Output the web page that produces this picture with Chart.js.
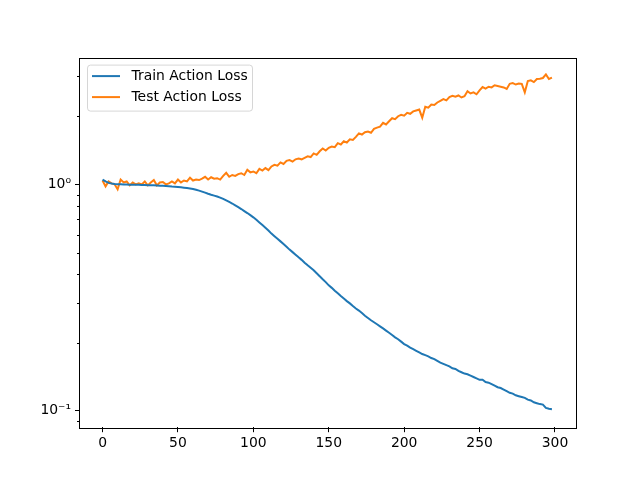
<!DOCTYPE html>
<html>
<head>
<meta charset="utf-8">
<script src="https://cdn.jsdelivr.net/npm/chart.js@4/dist/chart.umd.min.js"></script>
<style>
  html, body { margin: 0; padding: 0; background: #fff; }
  #wrap { width: 640px; height: 480px; }
</style>
</head>
<body>
<div id="wrap"><canvas id="myChart" width="640" height="480"></canvas></div>
<script>
// epochs sampled every 2 steps
const epochs = Array.from({ length: 150 }, (_, i) => i * 2);

const trainLoss = [
  1.05, 1.03, 1.015, 1.008, 1.003, 1.0, 1.0, 0.998, 0.998, 0.997,
  0.996, 0.995, 0.995, 0.994, 0.993, 0.992, 0.991, 0.99, 0.989, 0.987,
  0.985, 0.983, 0.981, 0.978, 0.976, 0.973, 0.97, 0.967, 0.963, 0.958,
  0.953, 0.946, 0.938, 0.929, 0.919, 0.909, 0.9, 0.892, 0.884, 0.874,
  0.862, 0.849, 0.836, 0.823, 0.808, 0.793, 0.778, 0.762, 0.747, 0.731,
  0.715, 0.697, 0.679, 0.661, 0.643, 0.625, 0.606, 0.59, 0.575, 0.56,
  0.545, 0.53, 0.515, 0.502, 0.489, 0.476, 0.464, 0.451, 0.439, 0.428,
  0.417, 0.405, 0.393, 0.381, 0.37, 0.358, 0.349, 0.339, 0.33, 0.321,
  0.313, 0.305, 0.298, 0.29, 0.283, 0.277, 0.27, 0.263, 0.257, 0.251,
  0.246, 0.241, 0.236, 0.231, 0.226, 0.221, 0.216, 0.211, 0.207, 0.202,
  0.197, 0.194, 0.19, 0.187, 0.184, 0.181, 0.178, 0.176, 0.174, 0.171,
  0.169, 0.166, 0.163, 0.161, 0.159, 0.157, 0.154, 0.153, 0.15, 0.148,
  0.146, 0.145, 0.143, 0.141, 0.139, 0.137, 0.137, 0.134, 0.133, 0.131,
  0.129, 0.127, 0.126, 0.124, 0.122, 0.12, 0.119, 0.117, 0.116, 0.115,
  0.114, 0.112, 0.111, 0.109, 0.108, 0.107, 0.1065, 0.103, 0.102, 0.1015
];

const testLoss = [
  1.04, 0.98, 1.03, 1.01, 1.0, 0.95, 1.05, 1.02, 1.03, 0.99,
  1.02, 1.0, 1.01, 1.0, 1.03, 0.99, 1.02, 1.045, 0.99, 1.02,
  1.025, 1.0, 1.01, 1.03, 1.01, 1.05, 1.02, 1.04, 1.03, 1.07,
  1.04, 1.05, 1.045, 1.06, 1.08, 1.05, 1.075, 1.06, 1.065, 1.05,
  1.09, 1.125, 1.08, 1.1, 1.09, 1.11, 1.12, 1.1, 1.16, 1.13,
  1.14, 1.12, 1.17, 1.15, 1.18, 1.155, 1.2, 1.22, 1.21, 1.25,
  1.23, 1.27, 1.28, 1.26, 1.29, 1.3, 1.29, 1.31, 1.33, 1.32,
  1.37, 1.35, 1.4, 1.44, 1.41, 1.45, 1.47, 1.46, 1.52, 1.5,
  1.55, 1.53, 1.58, 1.57, 1.62, 1.68, 1.66, 1.7, 1.71, 1.69,
  1.76, 1.78, 1.8, 1.87, 1.84, 1.9, 1.96, 1.94, 2.0, 2.03,
  2.01, 2.07, 2.05, 2.1, 2.12, 2.14, 1.97, 2.2, 2.18, 2.25,
  2.24, 2.3, 2.34, 2.38, 2.35, 2.43, 2.46, 2.44, 2.47, 2.42,
  2.45, 2.58, 2.52, 2.55, 2.5, 2.6, 2.69, 2.65, 2.7, 2.68,
  2.74, 2.72, 2.7, 2.68, 2.64, 2.78, 2.8, 2.76, 2.79, 2.78,
  2.55, 2.86, 2.88, 2.83, 2.92, 2.93, 2.95, 3.06, 2.92, 2.96
];

const xTicks = [0, 50, 100, 150, 200, 250, 300];
const yTicks = [0.1, 1];
const yTickLabels = ['10\u207B\u00B9', '10\u2070'];
const yMinorTicks = [0.09, 0.2, 0.3, 0.4, 0.5, 0.6, 0.7, 0.8, 0.9, 2, 3];

Chart.defaults.font.family = "'DejaVu Sans', sans-serif";
Chart.defaults.font.size = 13.9;
Chart.defaults.color = '#000';

// box, minor ticks and legend like matplotlib
const mplExtras = {
  id: 'mplExtras',
  afterDatasetsDraw(chart) {
    const ctx = chart.ctx;
    const a = chart.chartArea;
    const ys = chart.scales.y;
    ctx.save();
    ctx.strokeStyle = '#000';
    ctx.lineWidth = 1;
    ctx.beginPath();
    yMinorTicks.forEach(v => {
      const py = Math.round(ys.getPixelForValue(v)) + 0.5;
      ctx.moveTo(a.left - 3, py);
      ctx.lineTo(a.left, py);
    });
    ctx.stroke();
    ctx.strokeRect(Math.round(a.left) - 0.5, Math.round(a.top) + 0.5,
      Math.round(a.right - a.left) + 1, Math.round(a.bottom - a.top));

    // legend
    const lx = a.left + 7.5, ly = a.top + 7.5, lw = 165, lh = 46, r = 3;
    ctx.fillStyle = 'rgba(255,255,255,0.8)';
    ctx.strokeStyle = 'rgba(204,204,204,0.8)';
    ctx.beginPath();
    ctx.moveTo(lx + r, ly);
    ctx.lineTo(lx + lw - r, ly);
    ctx.arcTo(lx + lw, ly, lx + lw, ly + r, r);
    ctx.lineTo(lx + lw, ly + lh - r);
    ctx.arcTo(lx + lw, ly + lh, lx + lw - r, ly + lh, r);
    ctx.lineTo(lx + r, ly + lh);
    ctx.arcTo(lx, ly + lh, lx, ly + lh - r, r);
    ctx.lineTo(lx, ly + r);
    ctx.arcTo(lx, ly, lx + r, ly, r);
    ctx.closePath();
    ctx.fill();
    ctx.stroke();

    ctx.font = "13.9px 'DejaVu Sans', sans-serif";
    ctx.textBaseline = 'middle';
    ctx.textAlign = 'left';
    chart.data.datasets.forEach((ds, i) => {
      const rowY = ly + 11 + i * 21;
      ctx.strokeStyle = ds.borderColor;
      ctx.lineWidth = 2;
      ctx.beginPath();
      ctx.moveTo(lx + 4.5, rowY);
      ctx.lineTo(lx + 32.5, rowY);
      ctx.stroke();
      ctx.fillStyle = '#000';
      ctx.fillText(ds.label, lx + 44, rowY);
    });
    ctx.restore();
  }
};

const ctx = document.getElementById('myChart');

new Chart(ctx, {
  type: 'line',
  data: {
    datasets: [
      {
        label: 'Train Action Loss',
        data: trainLoss.map((v, i) => ({ x: epochs[i], y: v })),
        borderColor: '#1f77b4',
        borderWidth: 2,
        pointRadius: 0,
        tension: 0
      },
      {
        label: 'Test Action Loss',
        data: testLoss.map((v, i) => ({ x: epochs[i], y: v })),
        borderColor: '#ff7f0e',
        borderWidth: 2,
        pointRadius: 0,
        tension: 0
      }
    ]
  },
  options: {
    responsive: false,
    animation: false,
    events: [],
    layout: { padding: { left: 0, right: 64, top: 57.6, bottom: 0 } },
    plugins: {
      legend: { display: false },
      tooltip: { enabled: false }
    },
    scales: {
      x: {
        type: 'linear',
        min: -14.95,
        max: 313.95,
        afterFit(scale) { scale.height = 52.8; },
        afterBuildTicks(scale) { scale.ticks = xTicks.map(v => ({ value: v })); },
        grid: { drawOnChartArea: false, tickLength: 5, tickColor: '#000', tickWidth: 1 },
        border: { display: false },
        ticks: { padding: 3, maxRotation: 0, autoSkip: false }
      },
      y: {
        type: 'logarithmic',
        min: 0.0846,
        max: 3.63,
        afterFit(scale) { scale.width = 80; },
        afterBuildTicks(scale) { scale.ticks = yTicks.map(v => ({ value: v })); },
        grid: { drawOnChartArea: false, tickLength: 5, tickColor: '#000', tickWidth: 1 },
        border: { display: false },
        ticks: {
          padding: 4,
          autoSkip: false,
          callback: (v, i) => yTickLabels[i]
        }
      }
    }
  },
  plugins: [mplExtras]
});
</script>
</body>
</html>
